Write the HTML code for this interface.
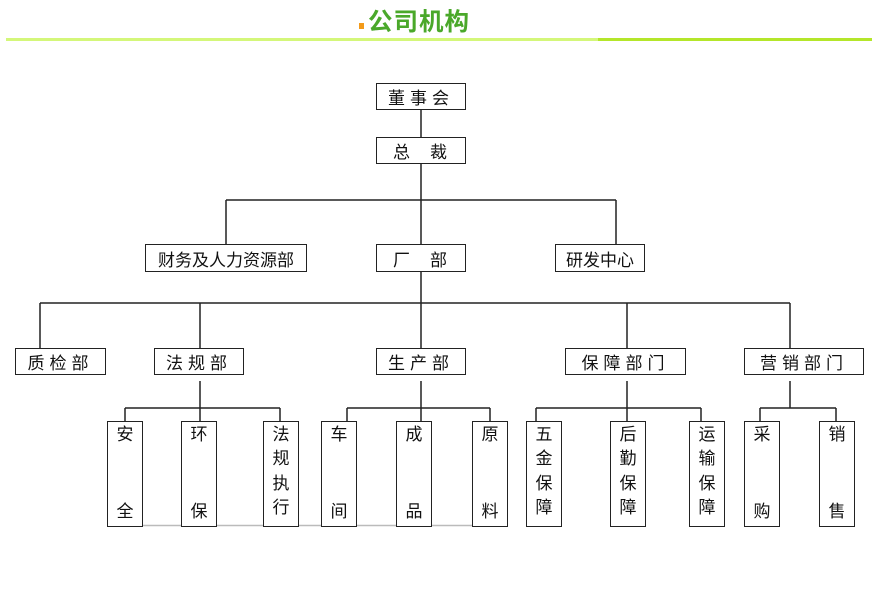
<!DOCTYPE html>
<html><head><meta charset="utf-8"><style>
body{margin:0;width:896px;height:600px;background:#fff;position:relative;overflow:hidden;font-family:"Liberation Sans","Noto Sans CJK SC",sans-serif}
.b{position:absolute;box-sizing:border-box;border:1.5px solid #222;background:#fff;font-size:17px;color:#111;display:flex;align-items:center;justify-content:center;letter-spacing:5px;white-space:nowrap}
.v{position:absolute;box-sizing:border-box;border:1.5px solid #222;background:#fff;font-size:17px;color:#111;display:flex;flex-direction:column;justify-content:space-between;align-items:center;padding:3px 0 4px;line-height:20px;top:421px;height:106px;width:36px}
.v4{justify-content:flex-start}
.v4 span{height:26.5px}
</style></head><body>
<div style="position:absolute;left:359px;top:23px;width:5px;height:6px;background:#f39a1a"></div>
<div style="position:absolute;left:368px;top:3px;font-size:24.5px;font-weight:bold;color:#4aa82a;letter-spacing:1px">公司机构</div>
<div style="position:absolute;left:6px;top:38px;width:592px;height:3px;background:#d4f77a"></div>
<div style="position:absolute;left:598px;top:38px;width:274px;height:3px;background:#b4e62a"></div>
<svg width="896" height="600" style="position:absolute;left:0;top:0" fill="none" stroke="#222" stroke-width="1.5">
<path d="M421 110V137M421 164V244M226 200H616M226 200V244M616 200V244"/>
<path d="M421 271V348M40 303H790M40 303V348M200 303V348M627 303V348M790 303V348"/>
<path d="M200 381V408M125 408H280M125 408V421M200 408V421M280 408V421"/>
<path d="M421 381V408M347 408H490M347 408V421M421 408V421M490 408V421"/>
<path d="M627 381V408M536 408H701M536 408V421M627 408V421M701 408V421"/>
<path d="M790 381V408M760 408H836M760 408V421M836 408V421"/>
<path d="M107 525.5H508" stroke="#bbb" stroke-width="1.5"/>
</svg>
<div class="b" style="left:376px;top:83px;width:90px;height:27px">董事会</div>
<div class="b" style="left:376px;top:137px;width:90px;height:27px;letter-spacing:20px;padding-left:18px">总裁</div>
<div class="b" style="left:145px;top:244px;width:162px;height:28px;letter-spacing:0">财务及人力资源部</div>
<div class="b" style="left:376px;top:244px;width:90px;height:28px;letter-spacing:20px;padding-left:18px">厂部</div>
<div class="b" style="left:555px;top:244px;width:90px;height:28px;letter-spacing:0">研发中心</div>
<div class="b" style="left:15px;top:348px;width:91px;height:27px">质检部</div>
<div class="b" style="left:154px;top:348px;width:90px;height:27px">法规部</div>
<div class="b" style="left:376px;top:348px;width:90px;height:27px">生产部</div>
<div class="b" style="left:565px;top:348px;width:121px;height:27px">保障部门</div>
<div class="b" style="left:744px;top:348px;width:120px;height:27px">营销部门</div>
<div class="v" style="left:107px"><span>安</span><span>全</span></div>
<div class="v" style="left:181px"><span>环</span><span>保</span></div>
<div class="v v4" style="left:263px"><span>法</span><span>规</span><span>执</span><span>行</span></div>
<div class="v" style="left:321px"><span>车</span><span>间</span></div>
<div class="v" style="left:396px"><span>成</span><span>品</span></div>
<div class="v" style="left:472px"><span>原</span><span>料</span></div>
<div class="v v4" style="left:526px"><span>五</span><span>金</span><span>保</span><span>障</span></div>
<div class="v v4" style="left:610px"><span>后</span><span>勤</span><span>保</span><span>障</span></div>
<div class="v v4" style="left:689px"><span>运</span><span>输</span><span>保</span><span>障</span></div>
<div class="v" style="left:744px"><span>采</span><span>购</span></div>
<div class="v" style="left:819px"><span>销</span><span>售</span></div>
</body></html>
